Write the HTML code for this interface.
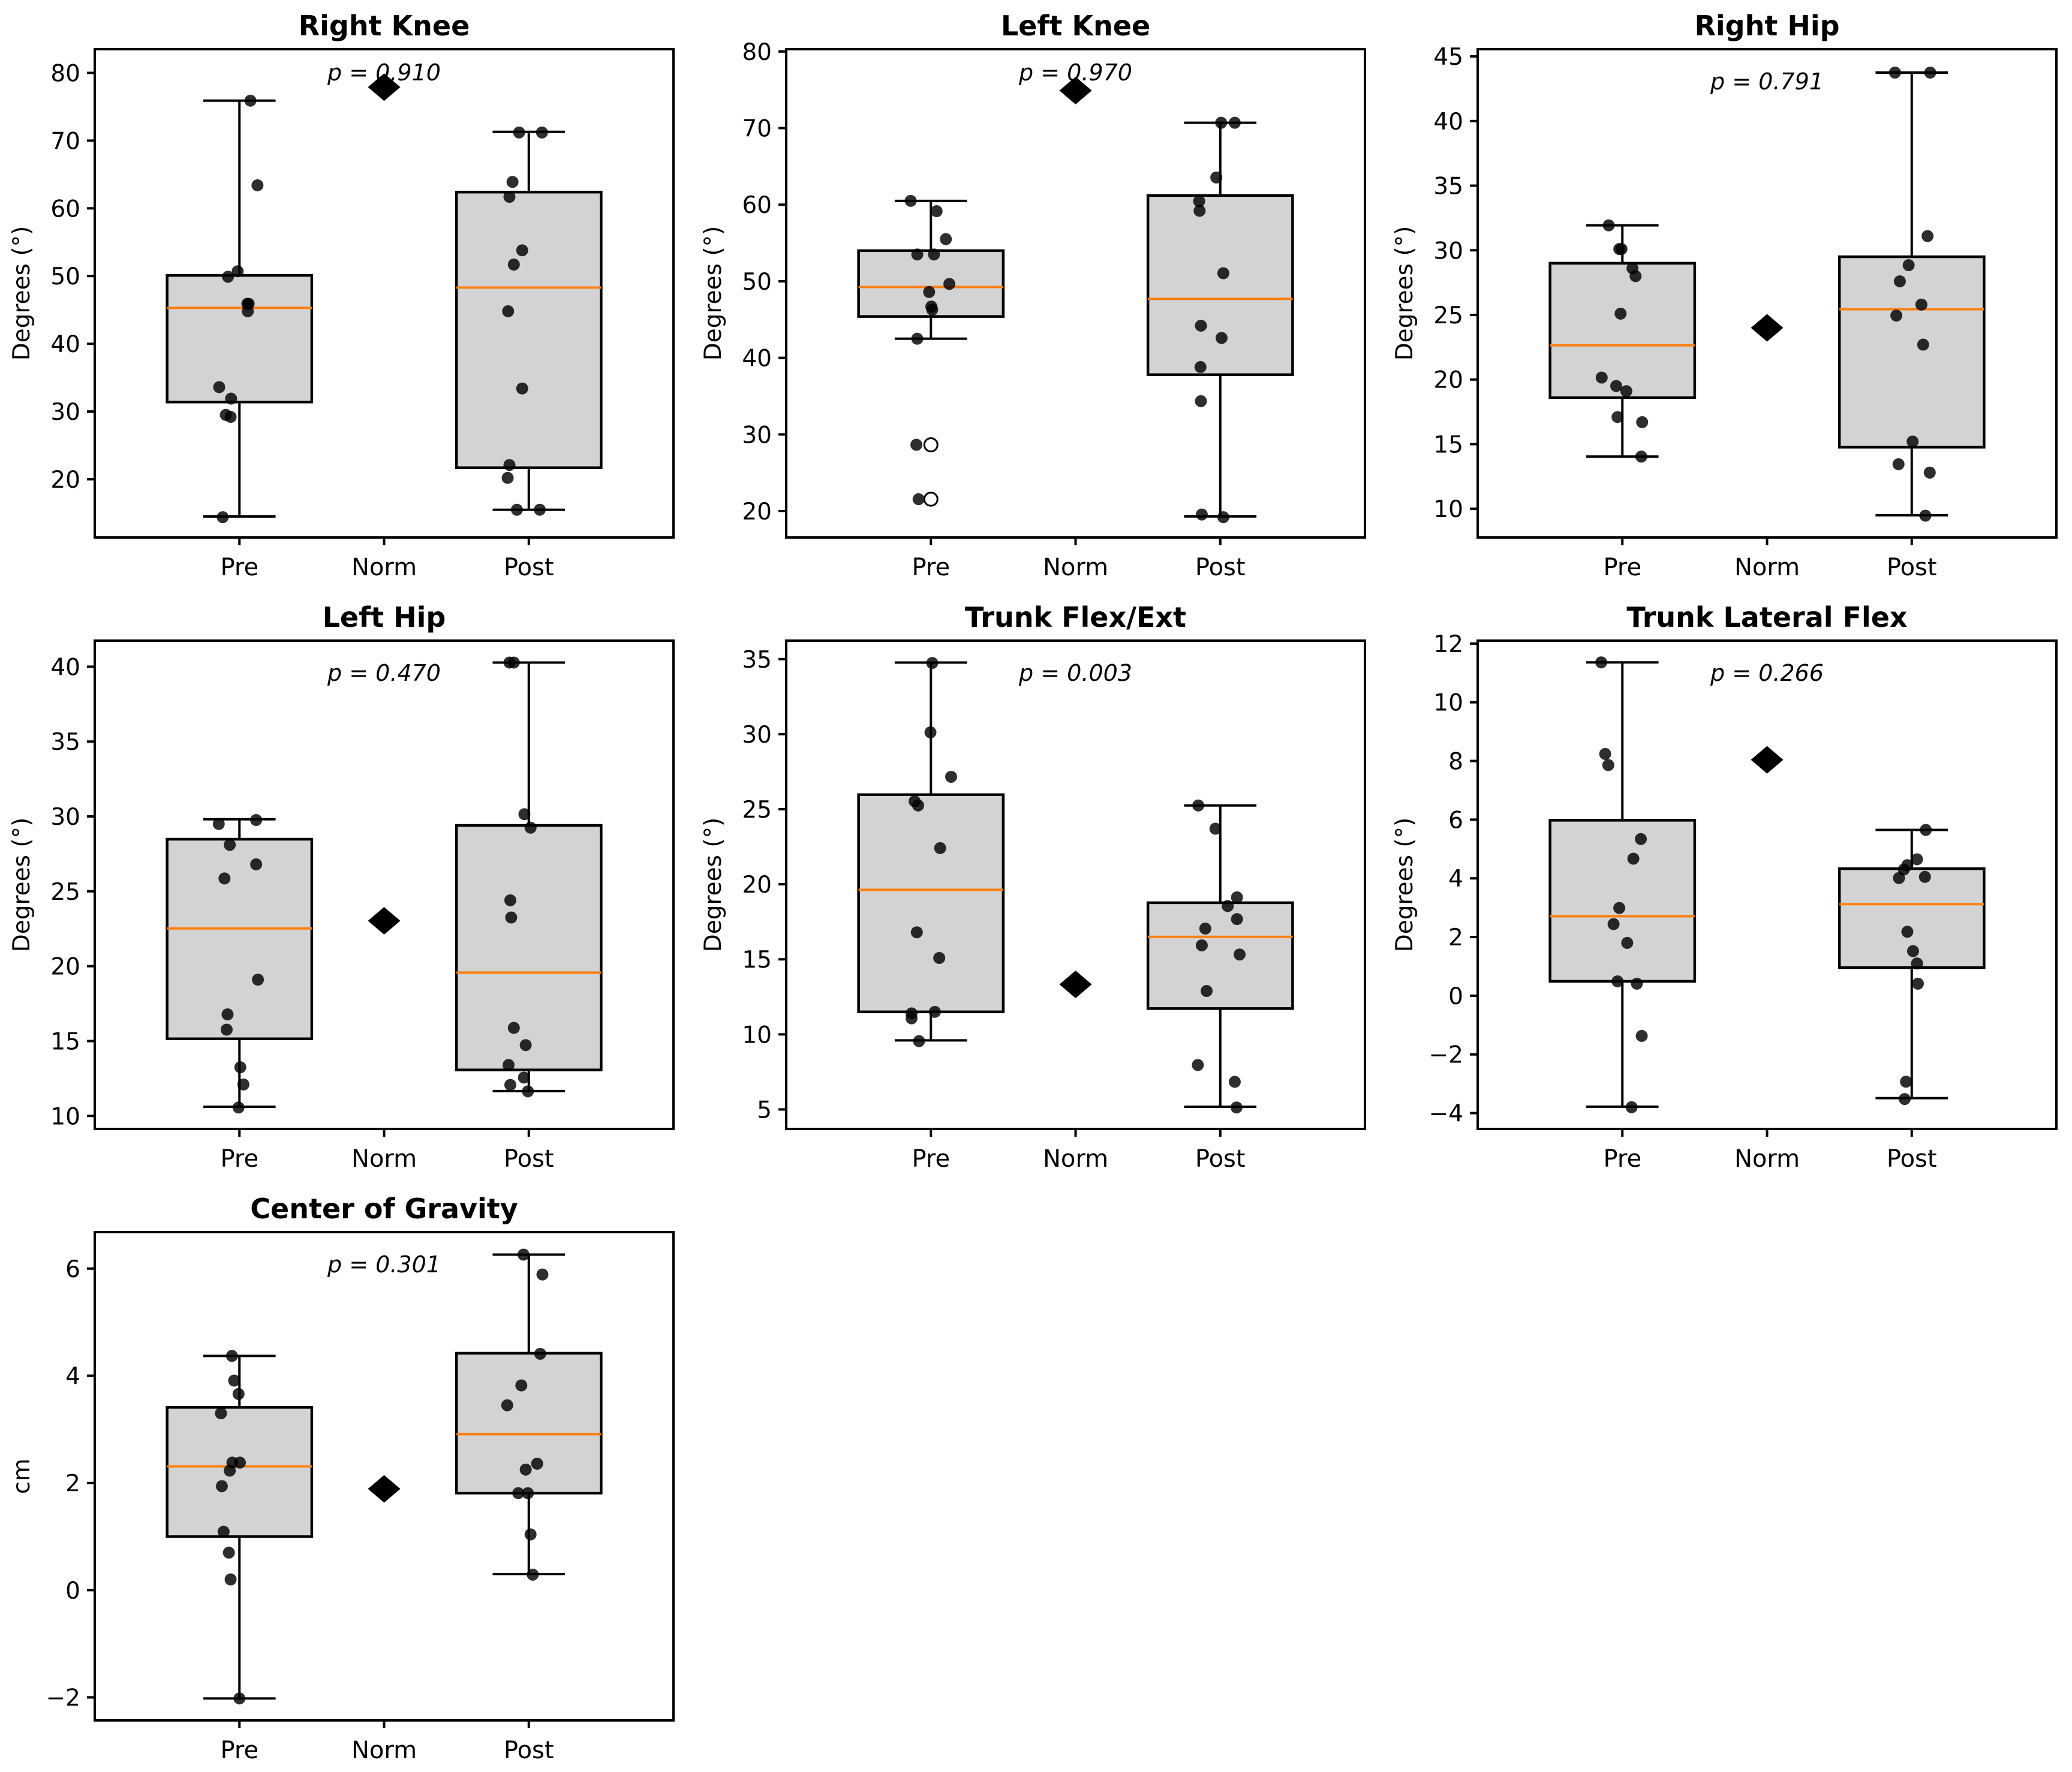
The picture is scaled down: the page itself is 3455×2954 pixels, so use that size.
<!DOCTYPE html>
<html><head><meta charset="utf-8"><style>
body{margin:0;background:#fff;}
svg{display:block;font-family:"DejaVu Sans","Liberation Sans",sans-serif;}
</style></head><body>
<svg id="fig" width="3455" height="2954" viewBox="0 0 3455 2954" xmlns="http://www.w3.org/2000/svg"></svg>
<script>
const categories = ["Pre","Norm","Post"];
const titles = ["Right Knee","Left Knee","Right Hip","Left Hip","Trunk Flex/Ext","Trunk Lateral Flex","Center of Gravity"];
const yLabels = ["Degrees (°)","Degrees (°)","Degrees (°)","Degrees (°)","Degrees (°)","Degrees (°)","cm"];
const pValues = ["p = 0.910","p = 0.970","p = 0.791","p = 0.470","p = 0.003","p = 0.266","p = 0.301"];
const yMin = [11.4,16.55,7.78,9.13,3.70,-4.54,-2.43];
const yMax = [83.5,80.3,45.56,41.74,36.23,12.10,6.68];
const yTicks = [[20,30,40,50,60,70,80],[20,30,40,50,60,70,80],[10,15,20,25,30,35,40,45],[10,15,20,25,30,35,40],[5,10,15,20,25,30,35],[-4,-2,0,2,4,6,8,10,12],[-2,0,2,4,6]];
const normValues = [77.9,74.9,24.0,23.03,13.33,8.04,1.89];
// box stats: [whiskerLow, Q1, median, Q3, whiskerHigh]
const preStats = [[14.5,31.4,45.3,50.1,75.9],[42.5,45.4,49.25,54.0,60.5],[14.04,18.6,22.65,29.0,31.93],[10.61,15.15,22.52,28.48,29.81],[9.6,11.5,19.63,25.97,34.77],[-3.78,0.49,2.71,5.98,11.36],[-2.02,1.0,2.31,3.41,4.37]];
const postStats = [[15.5,21.7,48.3,62.4,71.3],[19.3,37.8,47.7,61.2,70.7],[9.5,14.77,25.44,29.5,43.75],[11.66,13.07,19.57,29.4,40.28],[5.18,11.72,16.5,18.77,25.25],[-3.49,0.96,3.12,4.33,5.65],[0.3,1.81,2.91,4.42,6.26]];
const prePoints = [
 [75.9,63.4,49.9,50.7,45.9,45.9,44.8,33.6,31.9,29.5,29.2,14.4],
 [60.5,59.15,55.5,53.5,53.5,49.65,48.6,46.7,46.3,42.5],
 [31.93,30.1,30.1,28.6,28.0,25.1,20.15,19.5,19.1,17.1,16.7,14.04],
 [29.5,29.76,28.1,26.8,25.86,19.1,16.78,15.76,13.25,12.1,10.56],
 [34.74,30.12,27.16,25.53,25.25,22.41,16.8,15.09,11.5,11.4,11.07,9.55],
 [11.36,8.24,7.86,5.34,4.67,2.99,2.44,1.8,0.49,0.41,-1.37,-3.8],
 [4.37,3.91,3.66,3.3,2.38,2.38,2.23,1.94,1.09,0.7,0.2,-2.02]];
const preJitter = [
 [25,41,-26,-4,18,21,19,-46,-19,-31,-20,-38],
 [-46,13,34,-31,7,42,-4,1,3,-31],
 [-31,-7,-2,23,30,-4,-47,-14,9,-11,45,43],
 [-47,38,-22,38,-34,42,-27,-29,2,9,-2],
 [3,-1,46,-37,-29,21,-32,19,9,-44,-44,-27],
 [-48,-39,-32,42,25,-7,-20,11,-11,33,44,21],
 [-17,-12,-2,-42,-16,1,-22,-40,-36,-24,-20,0]];
const prePointsOutlier = [[],[28.65,21.55],[],[],[],[],[]];
const preJitterOutlier = [[],[-33,-28],[],[],[],[],[]];
const preFliers = [[],[28.65,21.55],[],[],[],[],[]];
const postPoints = [
 [71.2,71.2,63.9,61.7,53.8,51.7,44.8,33.4,22.1,20.2,15.5,15.5],
 [70.7,70.7,63.55,60.45,59.2,51.05,44.2,42.6,38.8,34.35,19.55,19.2],
 [43.75,43.75,31.1,28.85,27.6,25.8,24.95,22.7,15.2,13.45,12.8,9.47],
 [40.28,40.28,30.15,29.25,24.4,23.25,15.88,14.73,13.4,12.56,12.07,11.64],
 [25.25,23.7,19.13,18.55,17.68,17.05,15.93,15.32,12.89,7.96,6.84,5.13],
 [5.65,4.65,4.45,4.3,4.01,4.05,2.18,1.52,1.1,0.41,-2.93,-3.52],
 [6.26,5.89,4.41,3.82,3.45,2.36,2.25,1.81,1.81,1.04,0.29]];
const postJitter = [
 [-22,30,-37,-44,-15,-34,-47,-15,-44,-48,-27,25],
 [2,33,-9,-48,-47,7,-44,3,-45,-44,-42,7],
 [-38,42,36,-7,-27,22,-35,26,2,-30,41,31],
 [-44,-34,-10,4,-42,-40,-34,-7,-46,-11,-42,-2],
 [-50,-11,38,17,38,-34,-42,44,-31,-51,33,37],
 [32,12,-10,-18,-29,30,-10,3,12,14,-13,-16],
 [-12,31,26,-17,-49,19,-7,-24,-2,4,9]];
const pOffsets = [52,52,67,67,67,67,67];

const NS="http://www.w3.org/2000/svg";
const svg=document.getElementById('fig');
function mk(tag,attrs,parent){const e=document.createElementNS(NS,tag);for(const k in attrs)e.setAttribute(k,attrs[k]);(parent||svg).appendChild(e);return e;}
const colX=[158,1311,2464], rowY=[82,1068,2054], W=965, H=814;
const LW=4;

for(let i=0;i<7;i++){
  const L=colX[i%3], T=rowY[Math.floor(i/3)];
  const g=mk('g',{});
  
  
  const yS=v=>T+H-(v-yMin[i])/(yMax[i]-yMin[i])*H;
  const xS=c=>L+(c+1)*W/4;
  const u=W/4, J=1.3635*u;
  const t=mk('text',{x:L+W/2,y:T-23,'text-anchor':'middle','font-size':46,'font-weight':'bold',fill:'#000'},g);
  t.textContent=titles[i];
  
  
  const yl=mk('text',{x:0,y:0,'text-anchor':'middle','font-size':39,fill:'#000',transform:`translate(${L-109},${T+H/2}) rotate(-90)`},g);
  yl.textContent=yLabels[i];
  
  
  yTicks[i].forEach(v=>{
    const y=yS(v);
    const tk=mk('line',{x1:L-13,x2:L,y1:y,y2:y,stroke:'#000','stroke-width':LW},g);
    
    
    const tl=mk('text',{x:L-24,y:y+14,'text-anchor':'end','font-size':39,fill:'#000'},g);
    tl.textContent=(v<0?'\u2212':'')+Math.abs(v);
    
    
  });
  categories.forEach((c,ci)=>{
    const x=xS(ci);
    const tk=mk('line',{x1:x,x2:x,y1:T+H,y2:T+H+13,stroke:'#000','stroke-width':LW},g);
    
    
    const tl=mk('text',{x:x,y:T+H+63,'text-anchor':'middle','font-size':40,fill:'#000'},g);
    tl.textContent=c;
    
    
  });
  [[preStats[i],0,'pre'],[postStats[i],2,'post']].forEach(([s,ci,nm])=>{
    const x=xS(ci), hw=u/2, cw=u/4;
    const wl=mk('line',{x1:x,x2:x,y1:yS(s[0]),y2:yS(s[1]),stroke:'#000','stroke-width':LW},g);
    
    
    const wh=mk('line',{x1:x,x2:x,y1:yS(s[3]),y2:yS(s[4]),stroke:'#000','stroke-width':LW},g);
    
    
    const c1=mk('line',{x1:x-cw,x2:x+cw,y1:yS(s[0]),y2:yS(s[0]),stroke:'#000','stroke-width':LW},g);
    
    
    const c2=mk('line',{x1:x-cw,x2:x+cw,y1:yS(s[4]),y2:yS(s[4]),stroke:'#000','stroke-width':LW},g);
    
    
    const b=mk('rect',{x:x-hw,y:yS(s[3]),width:2*hw,height:yS(s[1])-yS(s[3]),fill:'#d3d3d3',stroke:'#000','stroke-width':4.5},g);
    
    
    const m=mk('line',{x1:x-hw,x2:x+hw,y1:yS(s[2]),y2:yS(s[2]),stroke:'#ff7f0e','stroke-width':4},g);
    
    
  });
  preFliers[i].forEach(v=>{
    const f=mk('circle',{cx:xS(0),cy:yS(v),r:11,fill:'#fff',stroke:'#000','stroke-width':3},g);
    
    
  });
  prePoints[i].forEach((v,k)=>{
    const p=mk('circle',{cx:xS(0)+preJitter[i][k]*u/J,cy:yS(v),r:10,fill:'#000','fill-opacity':0.82},g);
    
    
  });
  prePointsOutlier[i].forEach((v,k)=>{
    const p=mk('circle',{cx:xS(0)+preJitterOutlier[i][k]*u/J,cy:yS(v),r:10,fill:'#000','fill-opacity':0.82},g);
    
    
  });
  postPoints[i].forEach((v,k)=>{
    const p=mk('circle',{cx:xS(2)+postJitter[i][k]*u/J,cy:yS(v),r:10,fill:'#000','fill-opacity':0.82},g);
    
    
  });
  const nx=xS(1), ny=yS(normValues[i]);
  const d=mk('polygon',{points:`${nx},${ny-23} ${nx+27},${ny} ${nx},${ny+23} ${nx-27},${ny}`,fill:'#000'},g);
  
  
  const pt=mk('text',{x:nx,y:T+pOffsets[i],'text-anchor':'middle','font-size':38,'font-style':'italic',fill:'#000'},g);
  pt.textContent=pValues[i];
  
  
  const fr=mk('rect',{x:L,y:T,width:W,height:H,fill:'none',stroke:'#000','stroke-width':LW},g);
  
  
}
</script>
</body></html>
